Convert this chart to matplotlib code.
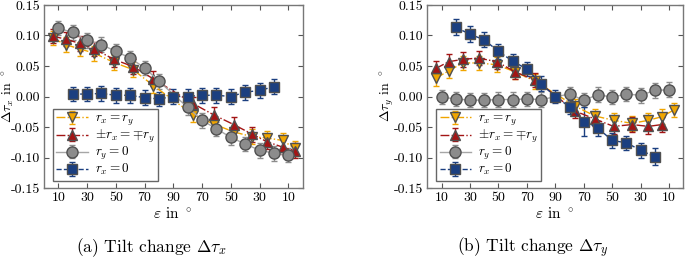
import numpy as np
import matplotlib
matplotlib.use("Agg")
import matplotlib.pyplot as plt

plt.rcParams['font.family'] = 'cmr10'
plt.rcParams['mathtext.fontset'] = 'cm'
plt.rcParams['axes.unicode_minus'] = False

# === Dati ===
# asse x: posizione u, eps = u (andata) e 180-u (ritorno)
x_ticks = [10, 30, 50, 70, 90, 110, 130, 150, 170]
x_labels = ['10', '30', '50', '70', '90', '70', '50', '30', '10']
y_ticks = [-0.15, -0.10, -0.05, 0.00, 0.05, 0.10, 0.15]
y_labels = ['-0.15', '-0.10', '-0.05', '0.00', '0.05', '0.10', '0.15']

u_tri = [6, 15, 25, 35, 48.5, 62, 76, 104, 118, 132, 145, 155, 166, 174.5]
u_tri_b = [6, 15, 25, 36, 49, 62, 76, 104, 118, 131, 144, 155.5, 165, 173.5]
u_tri_b_red = [6, 15, 25, 36, 49, 62, 76, 104, 118, 131, 144, 155.5, 165]
u_gray = [10, 20, 30, 40, 50, 60, 70, 80, 100, 110, 120, 130, 140, 150, 160, 170]
u_blue = [20, 30, 40, 50, 60, 70, 80, 90, 100, 110, 120, 130, 140, 150, 160]

# (a) tilt change tau_x
ax_rxry = [0.096, 0.085, 0.078, 0.071, 0.056, 0.044, 0.018,
           -0.030, -0.045, -0.058, -0.066, -0.068, -0.072, -0.085]
ax_pm = [0.099, 0.094, 0.087, 0.078, 0.061, 0.049, 0.029,
         -0.012, -0.030, -0.046, -0.062, -0.074, -0.083, -0.089]
ax_ry0 = [0.112, 0.105, 0.092, 0.085, 0.074, 0.063, 0.047, 0.025,
          -0.018, -0.039, -0.053, -0.067, -0.078, -0.088, -0.093, -0.096]
ax_rx0 = [0.004, 0.004, 0.005, 0.002, 0.002, -0.002, -0.004, 0.000,
          0.000, 0.002, 0.002, 0.000, 0.007, 0.010, 0.016]

# (b) tilt change tau_y
by_rxry = [0.030, 0.042, 0.055, 0.055, 0.052, 0.040, 0.025,
           -0.016, -0.032, -0.039, -0.044, -0.039, -0.033, -0.022]
by_pm = [0.046, 0.057, 0.061, 0.063, 0.057, 0.040, 0.027,
         -0.024, -0.037, -0.049, -0.046, -0.049, -0.046]
by_ry0 = [-0.001, -0.004, -0.006, -0.006, -0.005, -0.005, -0.004, -0.005,
          0.004, -0.006, 0.003, -0.001, 0.004, 0.002, 0.010, 0.011]
by_rx0 = [0.1135, 0.102, 0.093, 0.074, 0.058, 0.045, 0.021, 0.000,
          -0.017, -0.041, -0.052, -0.072, -0.076, -0.088, -0.099]
by_rx0_err = [0.013, 0.013, 0.012, 0.012, 0.012, 0.012, 0.012, 0.010,
              0.012, 0.023, 0.012, 0.012, 0.012, 0.012, 0.014]

ERR = 0.012

C_ORANGE = '#f0a500'
C_RED = '#a31515'
C_GRAY = '#8c8c8c'
C_BLUE = '#1b3f80'
EDGE = '#505050'


def draw_panel(ax, u_o, y_o, u_r, y_r, y_g, y_b, eb_b):
    ax.errorbar(u_o, y_o, yerr=ERR, fmt='v', ls='-.', lw=1.0, color=C_ORANGE,
                mfc=C_ORANGE, mec=EDGE, mew=1.0, ms=7.5, capsize=2.5, elinewidth=1.0,
                label=r'$r_x = r_y$')
    ax.errorbar(u_r, y_r, yerr=ERR, fmt='^', ls='-.', lw=1.0, color=C_RED,
                mfc=C_RED, mec=EDGE, mew=1.0, ms=7.5, capsize=2.5, elinewidth=1.0,
                label=r'$\pm r_x = \mp r_y$')
    ax.errorbar(u_gray, y_g, yerr=ERR, fmt='o', ls='-', lw=1.0, color='#a6a6a6',
                ecolor=C_GRAY, mfc=C_GRAY, mec=EDGE, mew=1.0, ms=8, capsize=2.5,
                elinewidth=1.0, label=r'$r_y = 0$')
    ax.errorbar(u_blue, y_b, yerr=eb_b, fmt='s', ls='--', lw=1.0, color=C_BLUE,
                mfc=C_BLUE, mec=EDGE, mew=1.0, ms=6.5, capsize=2.5, elinewidth=1.0,
                label=r'$r_x = 0$')

    ax.set_xlim(0, 180)
    ax.set_ylim(-0.15, 0.15)
    ax.set_xticks(x_ticks)
    ax.set_xticklabels(x_labels)
    ax.set_yticks(y_ticks)
    ax.set_yticklabels(y_labels)
    ax.tick_params(direction='in', top=True, right=True, length=3.5,
                   labelsize=10, color='#555555', pad=3)
    for s in ax.spines.values():
        s.set_color('#777777')
        s.set_linewidth(1.0)
    leg = ax.legend(loc='lower left', bbox_to_anchor=(0.035, 0.04), fontsize=9.5,
                    frameon=True, fancybox=False, edgecolor='#666666', framealpha=1,
                    handlelength=2.4, handleheight=0.5, labelspacing=0.0,
                    borderpad=0.25, handletextpad=0.5, borderaxespad=0)
    leg.get_frame().set_linewidth(1.0)


fig = plt.figure(figsize=(6.85, 2.6), dpi=100)
ax1 = fig.add_axes([44 / 685, 1 - 188 / 260, 258.7 / 685, 183 / 260])
ax2 = fig.add_axes([427.3 / 685, 1 - 188 / 260, 256 / 685, 183 / 260])

draw_panel(ax1, u_tri, ax_rxry, u_tri, ax_pm, ax_ry0, ax_rx0, ERR)
draw_panel(ax2, u_tri_b, by_rxry, u_tri_b_red, by_pm, by_ry0, by_rx0, by_rx0_err)

fig.text(8 / 685, 1 - 96 / 260, r'$\Delta\tau_x$ in $^\circ$', rotation=90,
         ha='center', va='center', fontsize=10)
fig.text(387 / 685, 1 - 96 / 260, r'$\Delta\tau_y$ in $^\circ$', rotation=90,
         ha='center', va='center', fontsize=10)
fig.text(173 / 685, 1 - 214 / 260, r'$\varepsilon$ in $^\circ$', ha='center',
         va='center', fontsize=11)
fig.text(555 / 685, 1 - 214 / 260, r'$\varepsilon$ in $^\circ$', ha='center',
         va='center', fontsize=11)
fig.text(151 / 685, 1 - 248 / 260, r'(a) Tilt change $\Delta\tau_x$', ha='center',
         va='center', fontsize=12.5)
fig.text(533 / 685, 1 - 248 / 260, r'(b) Tilt change $\Delta\tau_y$', ha='center',
         va='center', fontsize=12.5)

fig.savefig('out.png', dpi=100)
